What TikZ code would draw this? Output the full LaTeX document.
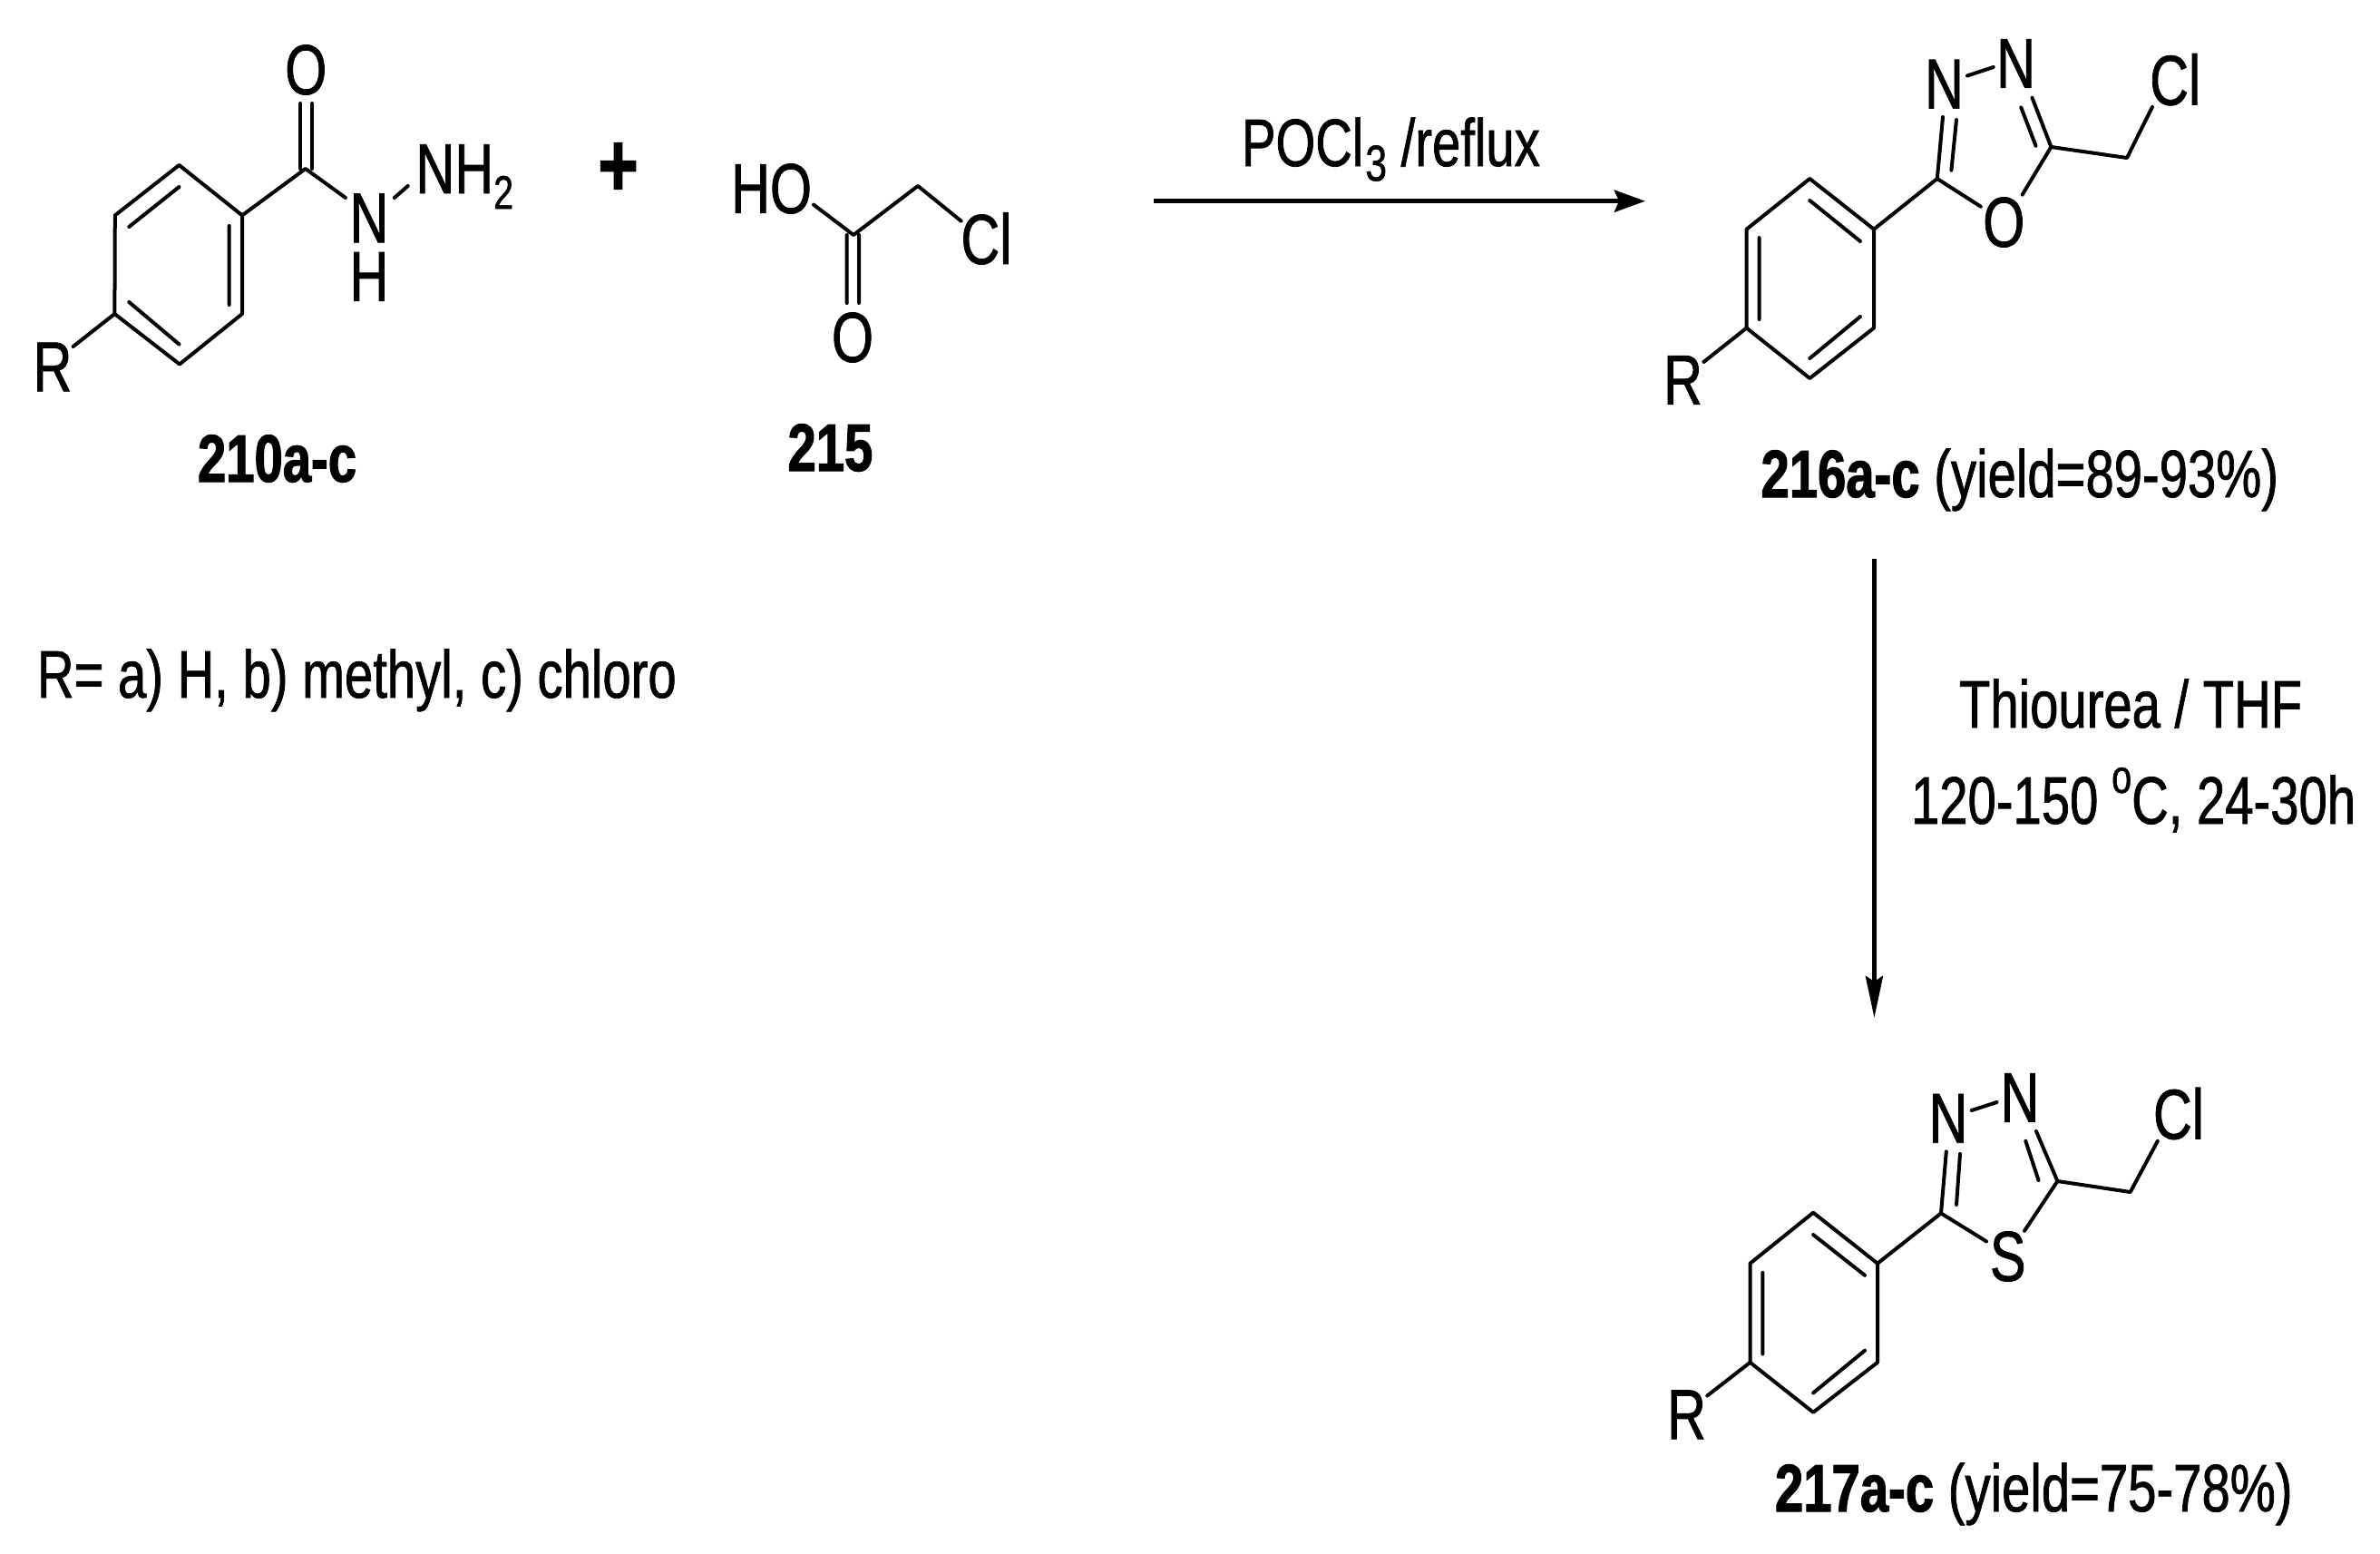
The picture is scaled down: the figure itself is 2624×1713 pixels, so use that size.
\documentclass[tikz,border=0pt]{standalone}
\usepackage{fontspec}
\setmainfont[FakeStretch=0.76,FakeBold=1,BoldFeatures={FakeBold=1.5}]{Liberation Sans}
\usetikzlibrary{arrows.meta}
\tikzset{
  bond/.style={line width=2pt,line cap=round,line join=round,black},
  rxnh/.style={line width=2.6pt,black,-{Stealth[length=17pt,width=12pt,inset=2.5pt]}},
  rxnv/.style={line width=2.5pt,black,-{Stealth[length=23pt,width=9.5pt,inset=3pt]}},
  atom/.style={inner sep=0pt,outer sep=0pt,font=\fontsize{39}{39}\selectfont,text=black},
  cmpd/.style={inner sep=0pt,outer sep=0pt,anchor=base west,font=\fontsize{37}{37}\selectfont,text=black},
  cond/.style={inner sep=0pt,outer sep=0pt,anchor=base west,font=\fontsize{37}{37}\selectfont,text=black},
  x=0.5pt,y=-0.5pt
}
\begin{document}
\begin{tikzpicture}
\useasboundingbox (0,0) rectangle (2624,1713);
% ---- 210a-c
\coordinate (a1) at (197.5,182);
\coordinate (a2) at (267,237.4);
\coordinate (a3) at (267,346);
\coordinate (a4) at (198,401.5);
\coordinate (a5) at (126.4,346);
\coordinate (a6) at (126.8,237.4);
\coordinate (ai1a) at (142.3,250);\coordinate (ai1b) at (197.5,206);
\coordinate (ai2a) at (252.7,249);\coordinate (ai2b) at (252.7,336);
\coordinate (ai3a) at (142.3,333);\coordinate (ai3b) at (197.5,379.5);
\coordinate (ac) at (336.8,186);
\coordinate (aca) at (331.3,186);\coordinate (acb) at (344.2,186);
\coordinate (aoa) at (331.3,114);\coordinate (aob) at (344.2,114);
\coordinate (ant) at (381,218);
\coordinate (anna) at (434.8,218);\coordinate (annb) at (449.7,205);
\coordinate (art) at (80.6,382);
\node[atom] (aO) at (337.3,77) {O};
\node[atom,align=center,font=\fontsize{39}{32.25}\selectfont] (aN) at (407,272.7) {N\\H};
\node[atom,anchor=base west] (aNH) at (458.5,213) {NH\raisebox{-0.22em}{\fontsize{26}{26}\selectfont 2}};
\node[atom] (aR) at (58,404.5) {R};
\draw[bond] (a1)--(a2)--(a3)--(a4)--(a5)--(a6)--cycle;
\draw[bond] (ai1a)--(ai1b) (ai2a)--(ai2b) (ai3a)--(ai3b);
\draw[bond] (a2)--(ac)--(ant) (anna)--(annb) (a5)--(art);
\draw[bond] (aca)--(aoa) (acb)--(aob);
\node[cmpd,font=\fontsize{37}{37}\selectfont\bfseries] (l210) at (218,531) {210a-c};
% plus
\node[atom,font=\fontsize{50}{50}\selectfont\bfseries] (plus) at (681.5,187) {+};
% ---- 215
\coordinate (bc) at (941,259);
\coordinate (bca) at (933.7,259);\coordinate (bcb) at (947,259);
\coordinate (boa) at (933.7,334);\coordinate (bob) at (947,334);
\coordinate (bho) at (897,225.6);
\coordinate (bch) at (1012,205);
\coordinate (bcl) at (1059.6,243.6);
\node[atom] (bHO) at (850.6,208) {HO};
\node[atom] (bCl) at (1087.4,263) {Cl};
\node[atom] (bO) at (940,372) {O};
\draw[bond] (bho)--(bc)--(bch)--(bcl) (bca)--(boa) (bcb)--(bob);
\node[cmpd,font=\fontsize{37}{37}\selectfont\bfseries] (l215) at (868.5,519) {215};
% ---- R legend
\node[cond] (legend) at (41,769) {R= a) H, b) methyl, c) chloro};
% ---- top arrow
\coordinate (r1a) at (1272,221.7);\coordinate (r1b) at (1814,221.7);
\draw[rxnh] (r1a)--(r1b);
\node[cond] (r1t) at (1369,183) {POCl\kern1pt\raisebox{-0.22em}{\fontsize{28}{28}\selectfont 3} /reflux};
% ---- 216a-c
\coordinate (c1) at (1995.3,197);
\coordinate (c2) at (2066,252.7);
\coordinate (c3) at (2066,361.5);
\coordinate (c4) at (1995.3,417);
\coordinate (c5) at (1925.6,361.5);
\coordinate (c6) at (1925.6,252.7);
\coordinate (ci1a) at (1995.3,221);\coordinate (ci1b) at (2051,266);
\coordinate (ci2a) at (1939.5,262);\coordinate (ci2b) at (1939.5,352);
\coordinate (ci3a) at (1995.3,395);\coordinate (ci3b) at (2051,349);
\coordinate (cc5) at (2135.8,197);
\coordinate (cc5o) at (2183.8,227.7);
\coordinate (cc2) at (2261.4,162);
\coordinate (cc2o) at (2229.6,214.6);
\coordinate (cc2n) at (2240.5,107.7);
\coordinate (cd2a) at (2244.5,160.8);\coordinate (cd2b) at (2228.3,118.5);
\coordinate (cnna) at (2169,83.5);\coordinate (cnnb) at (2197.8,74);
\coordinate (cc5n) at (2142,129);
\coordinate (cd5a) at (2151.4,187.7);\coordinate (cd5b) at (2157,132);
\coordinate (cch) at (2345,174);
\coordinate (ccl) at (2372.9,118);
\coordinate (crt) at (1878.4,399);
\node[atom] (cO) at (2209.3,245) {O};
\node[atom] (cN1) at (2222.6,70) {N};
\node[atom] (cN2) at (2143.5,92.7) {N};
\node[atom] (cCl) at (2398.2,87.7) {Cl};
\node[atom] (cR) at (1855.5,419) {R};
\draw[bond] (c1)--(c2)--(c3)--(c4)--(c5)--(c6)--cycle;
\draw[bond] (ci1a)--(ci1b) (ci2a)--(ci2b) (ci3a)--(ci3b);
\draw[bond] (c2)--(cc5)--(cc5o) (cc2o)--(cc2)--(cc2n) (cd2a)--(cd2b) (cnna)--(cnnb);
\draw[bond] (cc5)--(cc5n) (cd5a)--(cd5b) (cc2)--(cch)--(ccl) (c5)--(crt);
\node[cmpd] (l216) at (1941.5,548) {\textbf{216a-c} (yield=89-93\%)};
% ---- vertical arrow
\coordinate (r2a) at (2066.4,615.5);\coordinate (r2b) at (2066.4,1122);
\draw[rxnv] (r2a)--(r2b);
\node[cond] (r2t) at (2160,802) {Thiourea / THF};
\node[cond] (r2u) at (2107,908) {120-150\kern0.2em\raisebox{0.46em}{\fontsize{26}{26}\selectfont o}C, 24-30h};
% ---- 217a-c
\coordinate (d1) at (1999.1,1336.7);
\coordinate (d2) at (2070,1392.7);
\coordinate (d3) at (2070,1501.8);
\coordinate (d4) at (1999.1,1556.8);
\coordinate (d5) at (1929.5,1501.8);
\coordinate (d6) at (1929.5,1392.7);
\coordinate (di1a) at (1999.1,1361);\coordinate (di1b) at (2056,1405.8);
\coordinate (di2a) at (1943.4,1402.8);\coordinate (di2b) at (1943.4,1492.5);
\coordinate (di3a) at (1999.1,1535.4);\coordinate (di3b) at (2056,1488.7);
\coordinate (dc5) at (2140,1337.4);
\coordinate (dc5s) at (2190,1368.4);
\coordinate (dc2) at (2268.4,1302);
\coordinate (dc2s) at (2232,1356.8);
\coordinate (dc2n) at (2245,1247);
\coordinate (dd2a) at (2247.5,1301);\coordinate (dd2b) at (2233.3,1257.8);
\coordinate (dnna) at (2173.7,1224);\coordinate (dnnb) at (2201.5,1215);
\coordinate (dc5n) at (2145.8,1269.4);
\coordinate (dd5a) at (2157,1328);\coordinate (dd5b) at (2161,1272);
\coordinate (dch) at (2348.7,1314);
\coordinate (dcl) at (2378.8,1257.8);
\coordinate (drt) at (1882.3,1538.5);
\node[atom] (dS) at (2213.7,1385) {S};
\node[atom] (dN1) at (2227,1210) {N};
\node[atom] (dN2) at (2148,1232.8) {N};
\node[atom] (dCl) at (2402,1227.5) {Cl};
\node[atom] (dR) at (1859.5,1559.4) {R};
\draw[bond] (d1)--(d2)--(d3)--(d4)--(d5)--(d6)--cycle;
\draw[bond] (di1a)--(di1b) (di2a)--(di2b) (di3a)--(di3b);
\draw[bond] (d2)--(dc5)--(dc5s) (dc2s)--(dc2)--(dc2n) (dd2a)--(dd2b) (dnna)--(dnnb);
\draw[bond] (dc5)--(dc5n) (dd5a)--(dd5b) (dc2)--(dch)--(dcl) (d5)--(drt);
\node[cmpd] (l217) at (1957,1666) {\textbf{217a-c} (yield=75-78\%)};
\end{tikzpicture}
\end{document}
